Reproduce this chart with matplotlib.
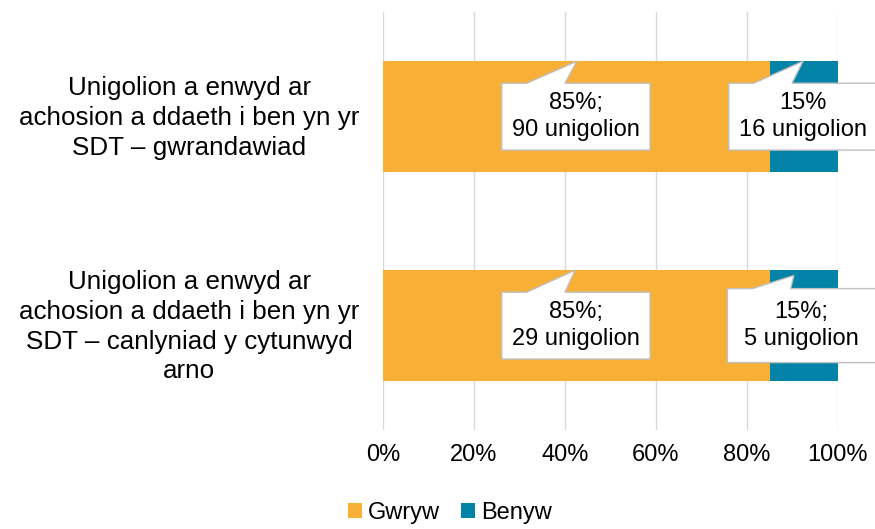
import numpy as np
import matplotlib.pyplot as plt
from matplotlib.patches import Polygon
from matplotlib.transforms import ScaledTranslation

plt.rcParams['font.family'] = ['Liberation Sans', 'DejaVu Sans']

categories = [
    'Unigolion a enwyd ar\nachosion a ddaeth i ben yn yr\nSDT – gwrandawiad',
    'Unigolion a enwyd ar\nachosion a ddaeth i ben yn yr\nSDT – canlyniad y cytunwyd\narno',
]
gwryw = [85, 85]
benyw = [15, 15]
gwryw_labels = ['85%;\n90 unigolion', '85%;\n29 unigolion']
benyw_labels = ['15%\n16 unigolion', '15%;\n5 unigolion']

orange = '#F8AF36'
blue = '#0383A8'

fig = plt.figure(figsize=(8.75, 5.29), dpi=100)
ax = fig.add_axes([0.4377, 0.187, 0.52, 0.79])

y = np.arange(len(categories))
h = 0.53
ax.barh(y, gwryw, height=h, color=orange, label='Gwryw', zorder=2)
ax.barh(y, benyw, left=gwryw, height=h, color=blue, label='Benyw', zorder=2)

ax.set_xlim(0, 100)
ax.set_ylim(1.5, -0.5)
ax.set_xticks(np.arange(0, 101, 20))
ax.set_xticklabels([f'{v}%' for v in range(0, 101, 20)], fontsize=17)
ax.set_yticks(y)
ax.set_yticklabels(categories, fontsize=18.7, multialignment='center', linespacing=1.3)
ax.tick_params(axis='both', length=0)
ax.tick_params(axis='y', pad=17)
ax.tick_params(axis='x', pad=10)
# lift the category labels a touch
for lab in ax.get_yticklabels():
    lab.set_transform(lab.get_transform() + ScaledTranslation(0, 3 / 72, fig.dpi_scale_trans))
ax.grid(axis='x', color='#D9D9D9', linewidth=1, zorder=0)
for s in ax.spines.values():
    s.set_visible(False)


def callout(text, cx, cy, tipx, tipy, hw=16.3, hh=0.16):
    # box with a tail pointing up to the bar (Excel style data callout)
    top, bot = cy - hh, cy + hh
    l, r = cx - hw, cx + hw
    b0, b1 = cx - 10.8, cx - 2.4
    verts = [(l, top), (b0, top), (tipx, tipy), (b1, top), (r, top), (r, bot), (l, bot)]
    ax.add_patch(Polygon(verts, closed=True, fc='white', ec='#BFBFBF', lw=1,
                         zorder=5, clip_on=False))
    ax.text(cx, cy, text, ha='center', va='center', fontsize=17, linespacing=1.3, zorder=6)


# box centre x and tail tip x, per bar
box_x = [[42.4, 92.3], [42.4, 92.0]]
tip_x = [[42.6, 92.3], [42.2, 90.3]]
for i in range(len(categories)):
    callout(gwryw_labels[i], box_x[i][0], y[i], tip_x[i][0], y[i] - h / 2)
    callout(benyw_labels[i], box_x[i][1], y[i], tip_x[i][1],
            y[i] - h / 2 + (0.025 if i == 1 else 0), hh=0.16 if i == 0 else 0.177)

fig.legend(loc='lower center', bbox_to_anchor=(0.514, -0.03), ncol=2, frameon=False,
           fontsize=17, handlelength=0.6, handleheight=0.6, handletextpad=0.25, columnspacing=0.9)

fig.savefig('out.png', dpi=100)
